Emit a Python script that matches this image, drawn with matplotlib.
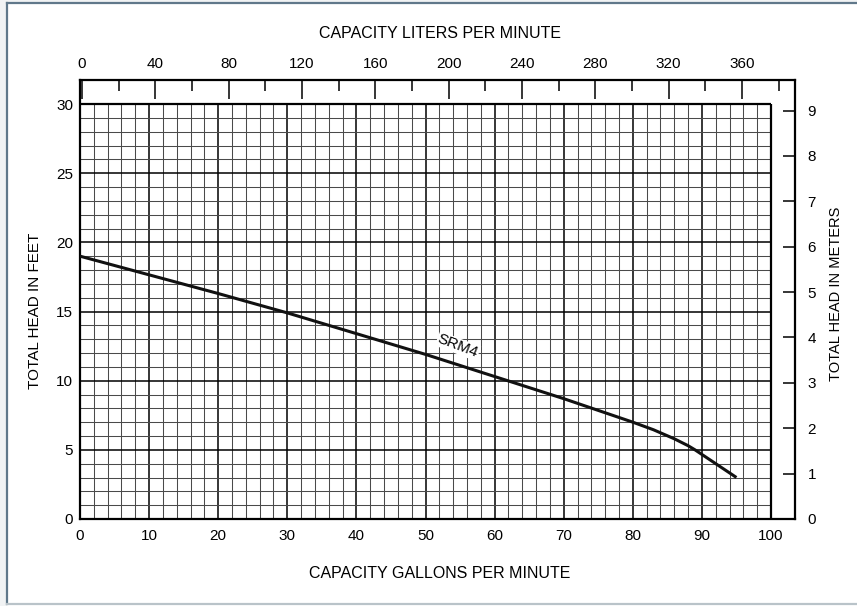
import matplotlib
matplotlib.use("Agg")
import matplotlib.pyplot as plt
from matplotlib.lines import Line2D
import numpy as np

plt.rcParams['font.family'] = ['Liberation Sans', 'DejaVu Sans']

# ---- data ----
gpm = [0, 10, 20, 30, 40, 50, 60, 70, 80, 83, 86, 88, 89, 92, 95]
head_ft = [19.0, 17.65, 16.3, 14.9, 13.4, 11.9, 10.3, 8.7, 7.0, 6.45, 5.8, 5.3, 5.0, 4.0, 3.0]
curve_label = "SRM4"
x_ticks_gpm = list(range(0, 101, 10))
y_ticks_ft = list(range(0, 31, 5))
top_ticks_lpm = list(range(0, 361, 40))
top_minor_lpm = list(range(20, 381, 40))
right_ticks_m = list(range(0, 10))

LPM_PER_GPM = 3.77
LPM_ZERO_GPM = 0.3
FT_PER_M = 3.281

W, H = 857, 606
fig = plt.figure(figsize=(W / 100, H / 100), dpi=100)
fig.patch.set_facecolor('white')

def fx(px):
    return px / W

def fy(py):
    return 1 - py / H

# outer decorative frame
fig.add_artist(plt.Rectangle((0, 0), fx(7), 1, transform=fig.transFigure,
                             facecolor='#f1f3f4', edgecolor='none'))
fig.add_artist(plt.Rectangle((0, fy(3)), 1, 3 / H, transform=fig.transFigure,
                             facecolor='#f1f3f4', edgecolor='none'))
fig.add_artist(Line2D([fx(7), fx(7)], [fy(3), fy(604)], transform=fig.transFigure,
                      color='#60788a', lw=1.6))
fig.add_artist(Line2D([fx(7), 1], [fy(3), fy(3)], transform=fig.transFigure,
                      color='#60788a', lw=1.6))
fig.add_artist(Line2D([fx(7), 1], [fy(604), fy(604)], transform=fig.transFigure,
                      color='#b9c3c9', lw=1.6))

# axes occupying frame 80..795 x, 80..519 y
L, R, T, B = 80, 795, 80, 519
ax = fig.add_axes([fx(L), fy(B), (R - L) / W, (B - T) / H])
px_per_gpm = (771 - 80) / 100
px_per_ft = (519 - 104) / 30
ax.set_xlim(0, (R - L) / px_per_gpm)
ax.set_ylim(0, (B - T) / px_per_ft)

for s in ax.spines.values():
    s.set_linewidth(1.6)
    s.set_color('black')

# grid
for g in np.arange(0, 101, 2):
    major = (g % 10 == 0)
    ax.plot([g, g], [0, 30], color='black' if major else '#4a4a4a',
            lw=1.1 if major else 0.75, zorder=1, solid_capstyle='butt')
for h in np.arange(0, 31, 1):
    major = (h % 5 == 0)
    ax.plot([0, 100], [h, h], color='black' if major else '#4a4a4a',
            lw=1.1 if major else 0.75, zorder=1, solid_capstyle='butt')
ax.plot([0, 100], [30, 30], color='black', lw=1.6, zorder=2, solid_capstyle='butt')
ax.plot([100, 100], [0, 30], color='black', lw=1.6, zorder=2, solid_capstyle='butt')

# curve
ax.plot(gpm, head_ft, color='#111111', lw=2.2, zorder=4, solid_capstyle='butt')
ax.text(54.7, 12.5, curve_label, rotation=-21, ha='center', va='center',
        fontsize=11, zorder=5,
        bbox=dict(facecolor='white', edgecolor='none', pad=0.5))

FS = 11
# bottom / left ticks
ax.set_xticks(x_ticks_gpm)
ax.set_yticks(y_ticks_ft)
ax.tick_params(axis='x', length=0, pad=7.5, labelsize=FS)
ax.tick_params(axis='y', length=0, pad=5, labelsize=FS)

# top liters axis
top = ax.secondary_xaxis('top', functions=(lambda g: (g - LPM_ZERO_GPM) * LPM_PER_GPM,
                                             lambda l: l / LPM_PER_GPM + LPM_ZERO_GPM))
top.set_xticks(top_ticks_lpm)
top.set_xticks(top_minor_lpm, minor=True)
top.tick_params(axis='x', which='major', direction='in', length=13.5, width=1.1,
                pad=6.5, labelsize=FS)
top.tick_params(axis='x', which='minor', direction='in', length=8, width=1.1)
top.spines['top'].set_visible(False)

# right meters axis
right = ax.secondary_yaxis('right', functions=(lambda f: f / FT_PER_M,
                                               lambda m: m * FT_PER_M))
right.set_yticks(right_ticks_m)
right.tick_params(axis='y', direction='in', length=8.6, width=1.1, pad=9,
                  labelsize=FS)
right.spines['right'].set_visible(False)

# axis titles
fig.text(fx(440), fy(33), "CAPACITY LITERS PER MINUTE", ha='center', va='center',
         fontsize=11.5)
fig.text(fx(440), fy(574), "CAPACITY GALLONS PER MINUTE", ha='center', va='center',
         fontsize=11.5)
fig.text(fx(35), fy(311), "TOTAL HEAD IN FEET", ha='center', va='center',
         rotation=90, fontsize=11)
fig.text(fx(836), fy(294), "TOTAL HEAD IN METERS", ha='center', va='center',
         rotation=90, fontsize=10.5)

fig.savefig("out.png", dpi=100, facecolor=fig.get_facecolor())
